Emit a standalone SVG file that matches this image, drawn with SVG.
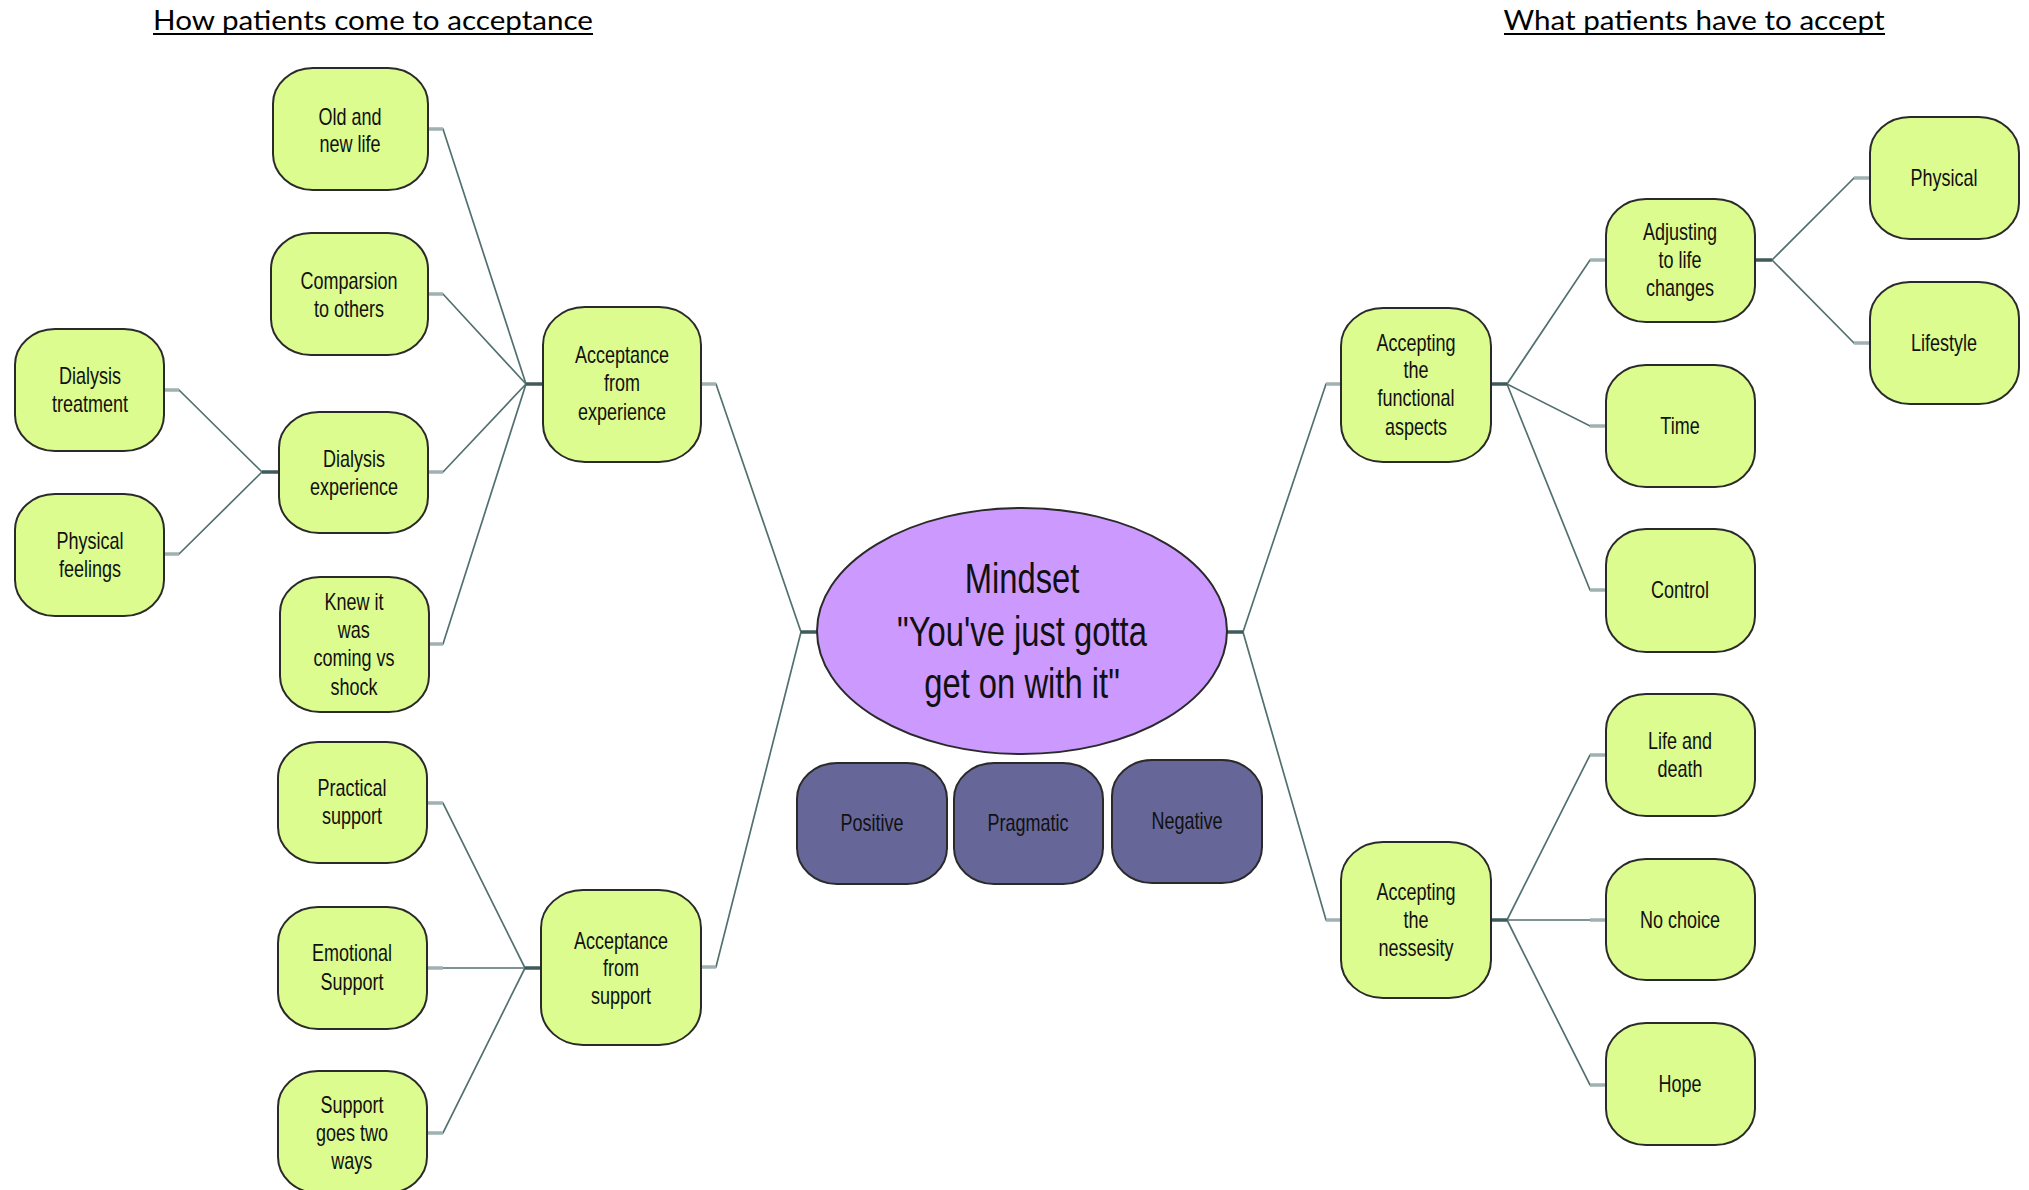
<svg xmlns="http://www.w3.org/2000/svg" width="2029" height="1190" viewBox="0 0 2029 1190">
  <style>
    .node { fill: #dcfc8f; stroke: #2a2a2a; stroke-width: 2; }
    .mood { fill: #666699; stroke: #2a2a2a; stroke-width: 2; }
    .core { fill: #cc99ff; stroke: #2a2a2a; stroke-width: 2; }
    .lbl { font-family: "Liberation Sans", Arial, sans-serif; font-size: 24px; fill: #111; text-anchor: middle; transform-box: fill-box; transform-origin: center; transform: scaleX(0.75); }
    .big { font-size: 42px; transform: scaleX(0.78); }
    .ttl { font-family: Lato, "Open Sans", "Liberation Sans", sans-serif; font-size: 26px; fill: #000; text-anchor: middle; }
    .uline { stroke: #000; stroke-width: 2; }
    .ln { fill: none; stroke: #52706f; stroke-width: 1.7; }
    .st { fill: none; stroke: #9fb1b1; stroke-width: 3.5; }
    .pst { fill: none; stroke: #3f5a5a; stroke-width: 3.5; }
  </style>

  <!-- section headings, each with its underline -->
  <g id="heading-left">
    <text class="ttl" x="373" y="30" textLength="440" lengthAdjust="spacingAndGlyphs">How patients come to acceptance</text>
    <line class="uline" x1="153" y1="34" x2="593" y2="34"/>
  </g>
  <g id="heading-right">
    <text class="ttl" x="1694" y="30" textLength="381" lengthAdjust="spacingAndGlyphs">What patients have to accept</text>
    <line class="uline" x1="1504" y1="34" x2="1885" y2="34"/>
  </g>

  <!-- connectors -->
  <g id="connectors">
    <!-- left: acceptance from experience -->
    <path class="ln" d="M428 129 H443 L526 384"/>
    <path class="ln" d="M428 294 H443 L526 384"/>
    <path class="ln" d="M428 472 H443 L526 384"/>
    <path class="ln" d="M429 644 H443 L526 384"/>
    <path class="st" d="M428 129 H443 M428 294 H443 M428 472 H443 M429 644 H443"/>
    <path class="pst" d="M526 384 H543"/>
    <!-- left: dialysis experience -->
    <path class="ln" d="M164 390 H179 L262 472"/>
    <path class="ln" d="M164 554 H179 L262 472"/>
    <path class="st" d="M164 390 H179 M164 554 H179"/>
    <path class="pst" d="M262 472 H279"/>
    <!-- left: acceptance from support -->
    <path class="ln" d="M427 803 H443 L525 968"/>
    <path class="ln" d="M427 968 H525"/>
    <path class="ln" d="M427 1133 H443 L525 968"/>
    <path class="st" d="M427 803 H443 M427 968 H443 M427 1133 H443"/>
    <path class="pst" d="M525 968 H541"/>
    <!-- mindset to both sides -->
    <path class="ln" d="M701 384 H716 L801 632"/>
    <path class="ln" d="M701 967 H716 L801 632"/>
    <path class="st" d="M701 384 H716 M701 967 H716"/>
    <path class="pst" d="M801 632 H818"/>
    <path class="ln" d="M1243 632 L1326 384 H1341"/>
    <path class="ln" d="M1243 632 L1326 920 H1341"/>
    <path class="st" d="M1326 384 H1341 M1326 920 H1341"/>
    <path class="pst" d="M1226 632 H1243"/>
    <!-- right: functional aspects -->
    <path class="ln" d="M1507 384 L1590 260 H1606"/>
    <path class="ln" d="M1507 384 L1590 426 H1606"/>
    <path class="ln" d="M1507 384 L1590 590 H1606"/>
    <path class="st" d="M1590 260 H1606 M1590 426 H1606 M1590 590 H1606"/>
    <path class="pst" d="M1491 384 H1507"/>
    <!-- right: adjusting to life changes -->
    <path class="ln" d="M1772 260 L1854 178 H1870"/>
    <path class="ln" d="M1772 260 L1854 343 H1870"/>
    <path class="st" d="M1854 178 H1870 M1854 343 H1870"/>
    <path class="pst" d="M1755 260 H1772"/>
    <!-- right: nessesity -->
    <path class="ln" d="M1507 920 L1590 755 H1606"/>
    <path class="ln" d="M1507 920 H1606"/>
    <path class="ln" d="M1507 920 L1590 1085 H1606"/>
    <path class="st" d="M1590 755 H1606 M1590 920 H1606 M1590 1085 H1606"/>
    <path class="pst" d="M1491 920 H1507"/>
  </g>

  <!-- centre -->
  <g id="mindset">
    <ellipse class="core" cx="1022" cy="631" rx="205" ry="123"/>
    <text class="lbl big" x="1022" y="593">Mindset</text>
    <text class="lbl big" x="1022" y="646">"You've just gotta</text>
    <text class="lbl big" x="1022" y="698">get on with it"</text>
  </g>
  <g id="positive">
    <rect class="mood" x="797" y="763" width="150" height="121" rx="40" ry="36"/>
    <text class="lbl" x="872" y="831">Positive</text>
  </g>
  <g id="pragmatic">
    <rect class="mood" x="954" y="763" width="149" height="121" rx="40" ry="36"/>
    <text class="lbl" x="1028" y="831">Pragmatic</text>
  </g>
  <g id="negative">
    <rect class="mood" x="1112" y="760" width="150" height="123" rx="40" ry="36"/>
    <text class="lbl" x="1187" y="829">Negative</text>
  </g>

  <!-- left branch -->
  <g id="old-new-life">
    <rect class="node" x="273" y="68" width="155" height="122" rx="40" ry="36"/>
    <text class="lbl" x="350" y="125">Old and</text>
    <text class="lbl" x="350" y="152">new life</text>
  </g>
  <g id="comparison">
    <rect class="node" x="271" y="233" width="157" height="122" rx="40" ry="36"/>
    <text class="lbl" x="349" y="289">Comparsion</text>
    <text class="lbl" x="349" y="317">to others</text>
  </g>
  <g id="dialysis-treatment">
    <rect class="node" x="15" y="329" width="149" height="122" rx="40" ry="36"/>
    <text class="lbl" x="90" y="384">Dialysis</text>
    <text class="lbl" x="90" y="412">treatment</text>
  </g>
  <g id="physical-feelings">
    <rect class="node" x="15" y="494" width="149" height="122" rx="40" ry="36"/>
    <text class="lbl" x="90" y="549">Physical</text>
    <text class="lbl" x="90" y="577">feelings</text>
  </g>
  <g id="dialysis-experience">
    <rect class="node" x="279" y="412" width="149" height="121" rx="40" ry="36"/>
    <text class="lbl" x="354" y="467">Dialysis</text>
    <text class="lbl" x="354" y="495">experience</text>
  </g>
  <g id="knew-it">
    <rect class="node" x="280" y="577" width="149" height="135" rx="40" ry="36"/>
    <text class="lbl" x="354" y="610">Knew it</text>
    <text class="lbl" x="354" y="638">was</text>
    <text class="lbl" x="354" y="666">coming vs</text>
    <text class="lbl" x="354" y="695">shock</text>
  </g>
  <g id="practical-support">
    <rect class="node" x="278" y="742" width="149" height="121" rx="40" ry="36"/>
    <text class="lbl" x="352" y="796">Practical</text>
    <text class="lbl" x="352" y="824">support</text>
  </g>
  <g id="emotional-support">
    <rect class="node" x="278" y="907" width="149" height="122" rx="40" ry="36"/>
    <text class="lbl" x="352" y="961">Emotional</text>
    <text class="lbl" x="352" y="990">Support</text>
  </g>
  <g id="support-two-ways">
    <rect class="node" x="278" y="1071" width="149" height="122" rx="40" ry="36"/>
    <text class="lbl" x="352" y="1113">Support</text>
    <text class="lbl" x="352" y="1141">goes two</text>
    <text class="lbl" x="352" y="1169">ways</text>
  </g>
  <g id="acceptance-experience">
    <rect class="node" x="543" y="307" width="158" height="155" rx="42" ry="38"/>
    <text class="lbl" x="622" y="363">Acceptance</text>
    <text class="lbl" x="622" y="391">from</text>
    <text class="lbl" x="622" y="420">experience</text>
  </g>
  <g id="acceptance-support">
    <rect class="node" x="541" y="890" width="160" height="155" rx="42" ry="38"/>
    <text class="lbl" x="621" y="949">Acceptance</text>
    <text class="lbl" x="621" y="976">from</text>
    <text class="lbl" x="621" y="1004">support</text>
  </g>

  <!-- right branch -->
  <g id="functional-aspects">
    <rect class="node" x="1341" y="308" width="150" height="154" rx="42" ry="38"/>
    <text class="lbl" x="1416" y="351">Accepting</text>
    <text class="lbl" x="1416" y="378">the</text>
    <text class="lbl" x="1416" y="406">functional</text>
    <text class="lbl" x="1416" y="435">aspects</text>
  </g>
  <g id="adjusting">
    <rect class="node" x="1606" y="199" width="149" height="123" rx="40" ry="36"/>
    <text class="lbl" x="1680" y="240">Adjusting</text>
    <text class="lbl" x="1680" y="268">to life</text>
    <text class="lbl" x="1680" y="296">changes</text>
  </g>
  <g id="physical">
    <rect class="node" x="1870" y="117" width="149" height="122" rx="40" ry="36"/>
    <text class="lbl" x="1944" y="186">Physical</text>
  </g>
  <g id="lifestyle">
    <rect class="node" x="1870" y="282" width="149" height="122" rx="40" ry="36"/>
    <text class="lbl" x="1944" y="351">Lifestyle</text>
  </g>
  <g id="time">
    <rect class="node" x="1606" y="365" width="149" height="122" rx="40" ry="36"/>
    <text class="lbl" x="1680" y="434">Time</text>
  </g>
  <g id="control">
    <rect class="node" x="1606" y="529" width="149" height="123" rx="40" ry="36"/>
    <text class="lbl" x="1680" y="598">Control</text>
  </g>
  <g id="nessesity">
    <rect class="node" x="1341" y="842" width="150" height="156" rx="42" ry="38"/>
    <text class="lbl" x="1416" y="900">Accepting</text>
    <text class="lbl" x="1416" y="928">the</text>
    <text class="lbl" x="1416" y="956">nessesity</text>
  </g>
  <g id="life-death">
    <rect class="node" x="1606" y="694" width="149" height="122" rx="40" ry="36"/>
    <text class="lbl" x="1680" y="749">Life and</text>
    <text class="lbl" x="1680" y="777">death</text>
  </g>
  <g id="no-choice">
    <rect class="node" x="1606" y="859" width="149" height="121" rx="40" ry="36"/>
    <text class="lbl" x="1680" y="928">No choice</text>
  </g>
  <g id="hope">
    <rect class="node" x="1606" y="1023" width="149" height="122" rx="40" ry="36"/>
    <text class="lbl" x="1680" y="1092">Hope</text>
  </g>
</svg>
